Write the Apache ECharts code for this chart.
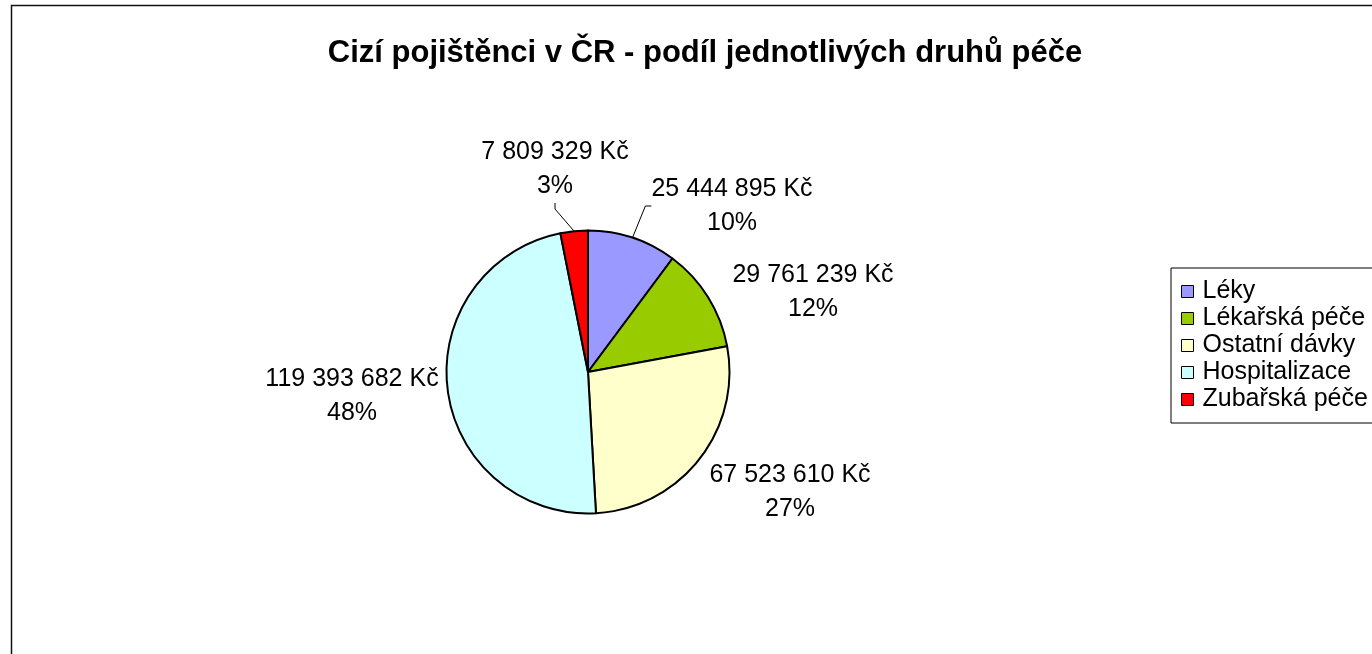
<!DOCTYPE html>
<html>
<head>
<meta charset="utf-8">
<title>Cizí pojištěnci v ČR</title>
<script src="https://cdn.jsdelivr.net/npm/echarts@6/dist/echarts.min.js"></script>
<style>
  html, body { margin: 0; padding: 0; background: #fff; }
  #chart { width: 1372px; height: 654px; }
</style>
</head>
<body>
<div id="chart"></div>
<script>
// data
const categories = ['Léky', 'Lékařská péče', 'Ostatní dávky', 'Hospitalizace', 'Zubařská péče'];
const amounts = [25444895, 29761239, 67523610, 119393682, 7809329];
const sliceColors = ['#9999FF', '#99CC00', '#FFFFCC', '#CCFFFF', '#FF0000'];
const withLeader = [true, false, false, false, true];

// label placement relative to the pie centre (px)
const pieCenter = [588, 372];
const labelShift = [[144, -166], [225, -80], [202, 120], [-236, 24], [-33, -203]];

const fmtKc = (v) => String(v).replace(/\B(?=(\d{3})+(?!\d))/g, ' ') + ' Kč';

const chart = echarts.init(document.getElementById('chart'));

const option = {
  animation: false,
  backgroundColor: '#fff',
  title: {
    text: 'Cizí pojištěnci v ČR - podíl jednotlivých druhů péče',
    left: 700,
    top: 33,
    textAlign: 'center',
    textStyle: {
      fontFamily: 'Liberation Sans, Arial, sans-serif',
      fontSize: 31,
      fontWeight: 'bold',
      color: '#000',
    },
  },
  graphic: [
    {
      type: 'rect',
      shape: { x: 11.5, y: 5.5, width: 1400, height: 700 },
      style: { fill: 'none', stroke: '#111', lineWidth: 1.5 },
      silent: true,
    },
  ],
  legend: {
    orient: 'vertical',
    left: 1171,
    top: 268,
    padding: [10, 60, 10, 10],
    borderColor: '#000',
    borderWidth: 1,
    itemGap: 0,
    itemWidth: 12,
    itemHeight: 12,
    icon: 'rect',
    itemStyle: { borderColor: '#000', borderWidth: 1 },
    textStyle: {
      fontFamily: 'Liberation Sans, Arial, sans-serif',
      fontSize: 25,
      lineHeight: 27,
      color: '#000',
      padding: [0, 0, 0, 4],
    },
    data: categories,
  },
  series: [
    {
      type: 'pie',
      center: pieCenter,
      radius: 141.5,
      startAngle: 90,
      clockwise: true,
      avoidLabelOverlap: false,
      itemStyle: { borderColor: '#000', borderWidth: 2 },
      emphasis: { disabled: true },
      label: {
        show: true,
        position: 'outside',
        fontFamily: 'Liberation Sans, Arial, sans-serif',
        fontSize: 25,
        lineHeight: 34,
        color: '#000',
        formatter: (p) => fmtKc(p.value) + '\n' + Math.round(p.percent) + '%',
      },
      labelLine: {
        length: 20,
        length2: 6,
        lineStyle: { color: '#000', width: 1 },
      },
      labelLayout: (p) => {
        const s = labelShift[p.dataIndex];
        return {
          x: pieCenter[0] + s[0],
          y: pieCenter[1] + s[1],
          align: 'center',
          verticalAlign: 'middle',
        };
      },
      data: categories.map((name, i) => ({
        name: name,
        value: amounts[i],
        itemStyle: { color: sliceColors[i] },
        labelLine: { show: withLeader[i] },
      })),
    },
  ],
};

chart.setOption(option);
</script>
</body>
</html>
